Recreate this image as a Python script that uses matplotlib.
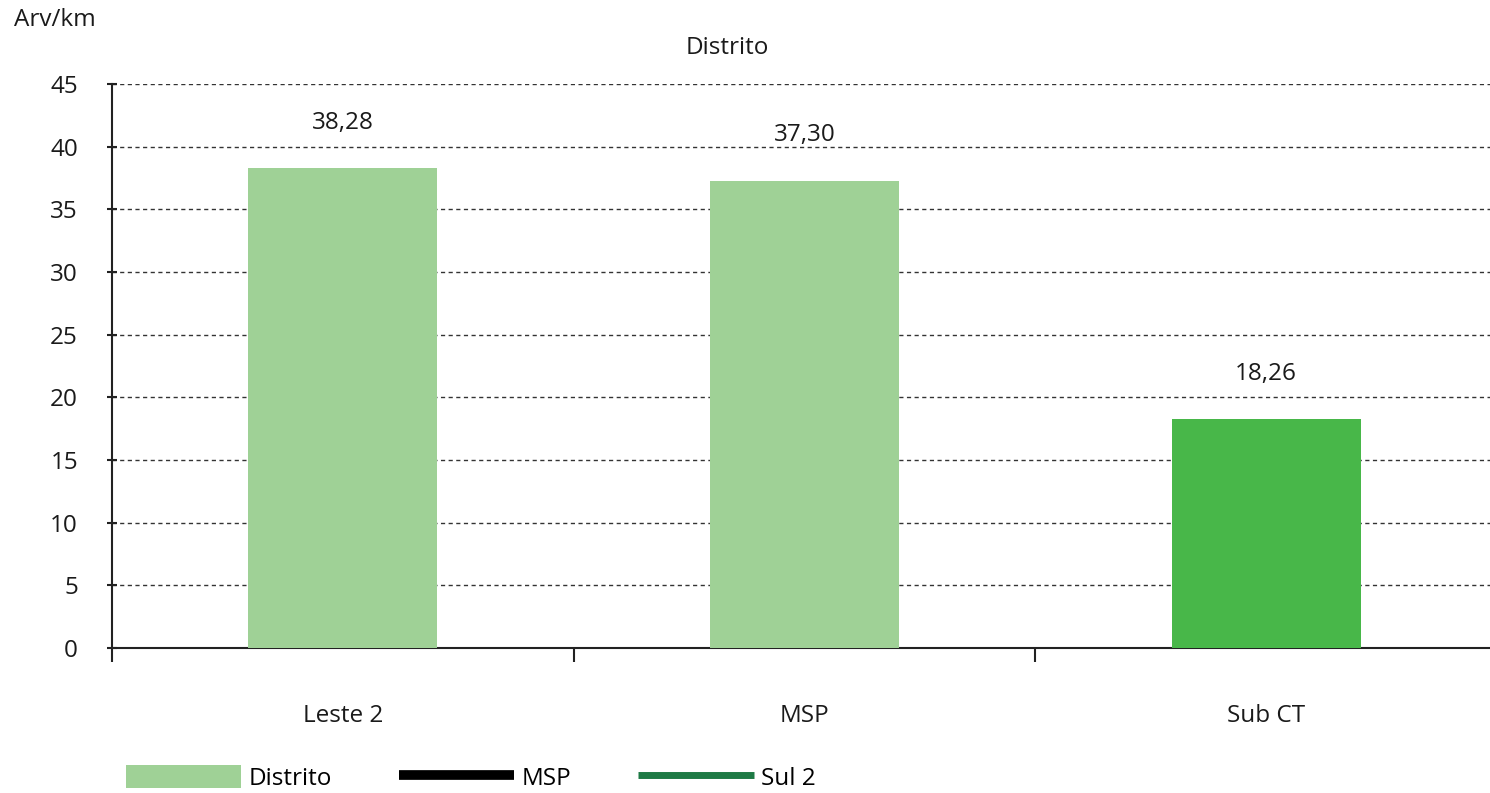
import matplotlib
matplotlib.use("Agg")
import matplotlib.pyplot as plt
from matplotlib.patches import Patch
from matplotlib.lines import Line2D

categories = ["Leste 2", "MSP", "Sub CT"]
values = [38.28, 37.30, 18.26]
bar_colors = ["#9FD196", "#9FD196", "#48B749"]
value_labels = ["38,28", "37,30", "18,26"]
y_ticks = [0, 5, 10, 15, 20, 25, 30, 35, 40, 45]
legend_labels = ["Distrito", "MSP", "Sul 2"]

plt.rcParams["font.family"] = ["Open Sans", "DejaVu Sans"]
FS = 17.5
TXT = "#1a1a1a"

fig = plt.figure(figsize=(14.9, 7.93), dpi=100)
W, H = 1490, 793
left, right, top, bottom = 112, 1497, 84, 648
ax = fig.add_axes([left / W, 1 - bottom / H, (right - left) / W, (bottom - top) / H])

x = list(range(len(categories)))
ax.bar(x, values, width=0.41, color=bar_colors, zorder=3)

for xi, v, lab in zip(x, values, value_labels):
    ax.annotate(lab, (xi, v), xytext=(0, 24), textcoords="offset points",
                ha="center", va="bottom", fontsize=FS, color=TXT)

ax.set_xlim(-0.5, 2.5)
ax.set_ylim(0, 45)
ax.set_yticks(y_ticks)
ax.set_yticklabels([str(t) for t in y_ticks], fontsize=FS, color=TXT)
ax.yaxis.grid(True, linestyle=(0, (3, 2.5)), color="#333333", linewidth=1.0, zorder=0)

# Category ticks sit on the boundaries between groups; labels sit centred below.
ax.set_xticks([-0.5, 0.5, 1.5, 2.5])
ax.set_xticklabels([])
ax.set_xticks(x, minor=True)
ax.set_xticklabels(categories, minor=True, fontsize=FS, color=TXT)
ax.tick_params(axis="x", which="minor", length=0, pad=40)
ax.tick_params(axis="x", which="major", length=10, width=1.5, direction="out", color="#222222")
ax.tick_params(axis="y", length=7, width=1.5, direction="inout", color="#222222", pad=21)

for side in ["top", "right"]:
    ax.spines[side].set_visible(False)
ax.spines["left"].set_linewidth(1.5)
ax.spines["bottom"].set_linewidth(1.5)
ax.spines["left"].set_color("#222222")
ax.spines["bottom"].set_color("#222222")

fig.text(727 / W, 1 - 48 / H, "Distrito", ha="center", va="center", fontsize=FS, color=TXT)
fig.text(14 / W, 1 - 20 / H, "Arv/km", ha="left", va="center", fontsize=FS, color=TXT)

handles = [
    Patch(facecolor="#9FD196", edgecolor="none"),
    Line2D([0], [0], color="#000000", linewidth=7, solid_capstyle="butt"),
    Line2D([0], [0], color="#1E7A45", linewidth=5, solid_capstyle="butt"),
]
fig.legend(handles, legend_labels, loc="center left", bbox_to_anchor=(126 / W, 1 - 778 / H),
           ncol=3, frameon=False, fontsize=FS, handlelength=4.75, handleheight=1.1,
           handletextpad=0.3, columnspacing=2.75, borderaxespad=0, borderpad=0)

fig.savefig("out.png", dpi=100)
